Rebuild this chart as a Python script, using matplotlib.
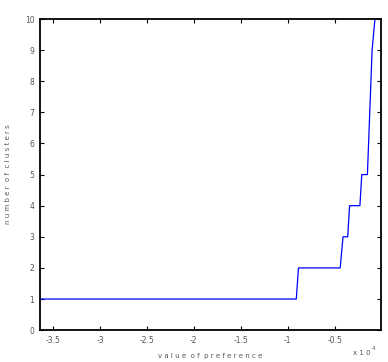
import matplotlib
matplotlib.use('Agg')
import matplotlib.pyplot as plt

# preference values (x 10^4) and number of clusters
pref = [-3.64, -0.908, -0.885, -0.44, -0.41, -0.36, -0.34, -0.23, -0.21, -0.15, -0.10, -0.07]
nclust = [1, 1, 2, 2, 3, 3, 4, 4, 5, 5, 9, 10]
xticks = [-3.5, -3, -2.5, -2, -1.5, -1, -0.5]
xticklabels = ['-3.5', '-3', '-2.5', '-2', '-1.5', '-1', '-0.5']
yticks = list(range(0, 11))

plt.rcParams['font.family'] = ['Liberation Sans Narrow', 'DejaVu Sans']
txt = '#555555'

fig = plt.figure(figsize=(3.88, 3.62), dpi=100)
ax = fig.add_axes([0.103, 0.088, 0.879, 0.8595])
ax.plot(pref, nclust, color='#0000ff', linewidth=0.9)
ax.set_xlim(-3.64, -0.005)
ax.set_ylim(0, 10)
ax.set_xticks(xticks)
ax.set_xticklabels(xticklabels)
ax.set_yticks(yticks)
ax.tick_params(direction='in', top=True, right=True, labelsize=5.5, labelcolor=txt,
               length=3, width=0.8, pad=4)
for s in ax.spines.values():
    s.set_linewidth(1.3)
ax.set_xlabel('v a l u e  o f  p r e f e r e n c e', fontsize=5, color=txt)
ax.set_ylabel('n u m b e r  o f  c l u s t e r s', fontsize=5, color=txt)
ax.xaxis.set_label_coords(0.5, -0.072)
ax.yaxis.set_label_coords(-0.085, 0.5)
fig.text(0.955, 0.018, 'x 1 0', fontsize=5, color=txt, ha='right')
fig.text(0.958, 0.033, '4', fontsize=4, color=txt, ha='left')
fig.savefig('out.png', dpi=100)
